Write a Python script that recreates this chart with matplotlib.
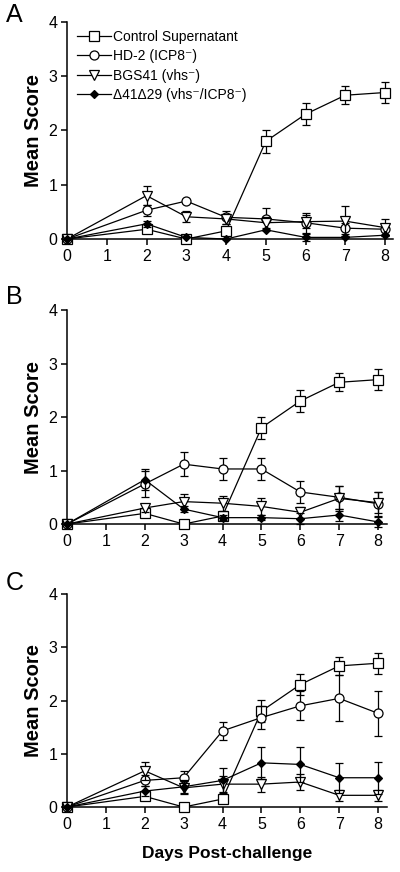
# Three-panel line chart of mean disease score after challenge (panels A, B, C)

import matplotlib
matplotlib.use("Agg")
import matplotlib.pyplot as plt
from matplotlib.lines import Line2D

plt.rcParams['font.family'] = ['Liberation Sans', 'DejaVu Sans']

days = [0, 2, 3, 4, 5, 6, 7, 8]
labels = ["Control Supernatant", "HD-2 (ICP8\u207b)", "BGS41 (vhs\u207b)",
          "\u039441\u039429 (vhs\u207b/ICP8\u207b)"]

# Panel A
a_control = [0, 0.18, 0, 0.15, 1.8, 2.3, 2.65, 2.7]
a_control_err = [0, 0.06, 0, 0.08, 0.21, 0.2, 0.17, 0.2]
a_hd2 = [0, 0.53, 0.7, 0.4, 0.37, 0.3, 0.2, 0.18]
a_hd2_err = [0, 0.1, 0, 0.12, 0.2, 0.18, 0.1, 0.1]
a_bgs = [0, 0.8, 0.41, 0.37, 0.3, 0.32, 0.33, 0.21]
a_bgs_err = [0, 0.18, 0.1, 0.1, 0.1, 0.12, 0.28, 0.15]
a_dd = [0, 0.28, 0.03, 0.0, 0.17, 0.03, 0.03, 0.07]
a_dd_err = [0, 0.06, 0, 0, 0, 0.06, 0, 0]

# Panel B
b_control = [0, 0.2, 0, 0.15, 1.8, 2.3, 2.65, 2.7]
b_control_err = [0, 0.06, 0, 0.08, 0.21, 0.2, 0.17, 0.2]
b_hd2 = [0, 0.75, 1.12, 1.03, 1.03, 0.6, 0.5, 0.38]
b_hd2_err = [0, 0.25, 0.23, 0.2, 0.2, 0.2, 0.22, 0.22]
b_bgs = [0, 0.3, 0.42, 0.39, 0.33, 0.22, 0.48, 0.4]
b_bgs_err = [0, 0.08, 0.14, 0.14, 0.16, 0.1, 0.24, 0.2]
b_dd = [0, 0.83, 0.28, 0.12, 0.12, 0.1, 0.17, 0.04]
b_dd_err = [0, 0.2, 0.06, 0.05, 0.05, 0.1, 0.12, 0.1]

# Panel C
c_control = [0, 0.2, 0, 0.15, 1.8, 2.3, 2.65, 2.7]
c_control_err = [0, 0.06, 0, 0.08, 0.21, 0.2, 0.17, 0.2]
c_hd2 = [0, 0.5, 0.55, 1.43, 1.68, 1.9, 2.04, 1.76]
c_hd2_err = [0, 0.1, 0.12, 0.17, 0.22, 0.27, 0.43, 0.42]
c_bgs = [0, 0.68, 0.36, 0.43, 0.43, 0.47, 0.22, 0.22]
c_bgs_err = [0, 0.17, 0.12, 0.15, 0.14, 0.15, 0.1, 0.1]
c_dd = [0, 0.3, 0.38, 0.5, 0.83, 0.8, 0.55, 0.55]
c_dd_err = [0, 0.1, 0.12, 0.23, 0.3, 0.33, 0.28, 0.3]

panels = [
    ("A", [0.1675, 0.7259, 0.815, 0.2489], 8.2, 0.983,
     [a_control, a_hd2, a_bgs, a_dd], [a_control_err, a_hd2_err, a_bgs_err, a_dd_err]),
    ("B", [0.1675, 0.399, 0.80, 0.2454], 8.23, 0.659,
     [b_control, b_hd2, b_bgs, b_dd], [b_control_err, b_hd2_err, b_bgs_err, b_dd_err]),
    ("C", [0.1675, 0.0745, 0.80, 0.2443], 8.23, 0.331,
     [c_control, c_hd2, c_bgs, c_dd], [c_control_err, c_hd2_err, c_bgs_err, c_dd_err]),
]

styles = [
    dict(marker='s', ms=6.5, mfc='white'),
    dict(marker='o', ms=6.5, mfc='white'),
    dict(marker='v', ms=7, mfc='white'),
    dict(marker='D', ms=4, mfc='black'),
]

fig = plt.figure(figsize=(4, 8.72), dpi=100)

for name, rect, xmax, label_y, series, errs in panels:
    ax = fig.add_axes(rect)
    for i, (vals, err) in enumerate(zip(series, errs)):
        ax.errorbar(days, vals, yerr=err, color='black', lw=0.9, mec='black',
                    mew=0.9, capsize=2.6, elinewidth=0.9, capthick=0.9,
                    clip_on=False, zorder=3 + i, **styles[i])
    ax.set_xlim(0, xmax)
    ax.set_ylim(0, 4)
    ax.set_xticks(range(0, 9))
    ax.set_yticks(range(0, 5))
    ax.spines['top'].set_visible(False)
    ax.spines['right'].set_visible(False)
    ax.spines['left'].set_linewidth(1.1)
    ax.spines['bottom'].set_linewidth(1.1)
    ax.tick_params(direction='out', length=4, width=1.1, labelsize=11.5, pad=3)
    ax.set_ylabel("Mean Score", fontsize=14.5, fontweight='bold', labelpad=4)
    fig.text(0.015, label_y, name, fontsize=18, va='center')
    if name == "A":
        handles = [Line2D([], [], color='black', lw=0.9, mec='black', mew=0.9, **s)
                   for s in styles]
        ax.legend(handles, labels, loc='upper left', bbox_to_anchor=(0.0, 1.008),
                  frameon=False, fontsize=10, handlelength=2.5, handletextpad=0.1,
                  labelspacing=0.38, borderaxespad=0.3)
    if name == "C":
        ax.set_xlabel("Days Post-challenge", fontsize=12.5, fontweight='bold',
                      labelpad=10)

fig.savefig("out.png", dpi=100)
